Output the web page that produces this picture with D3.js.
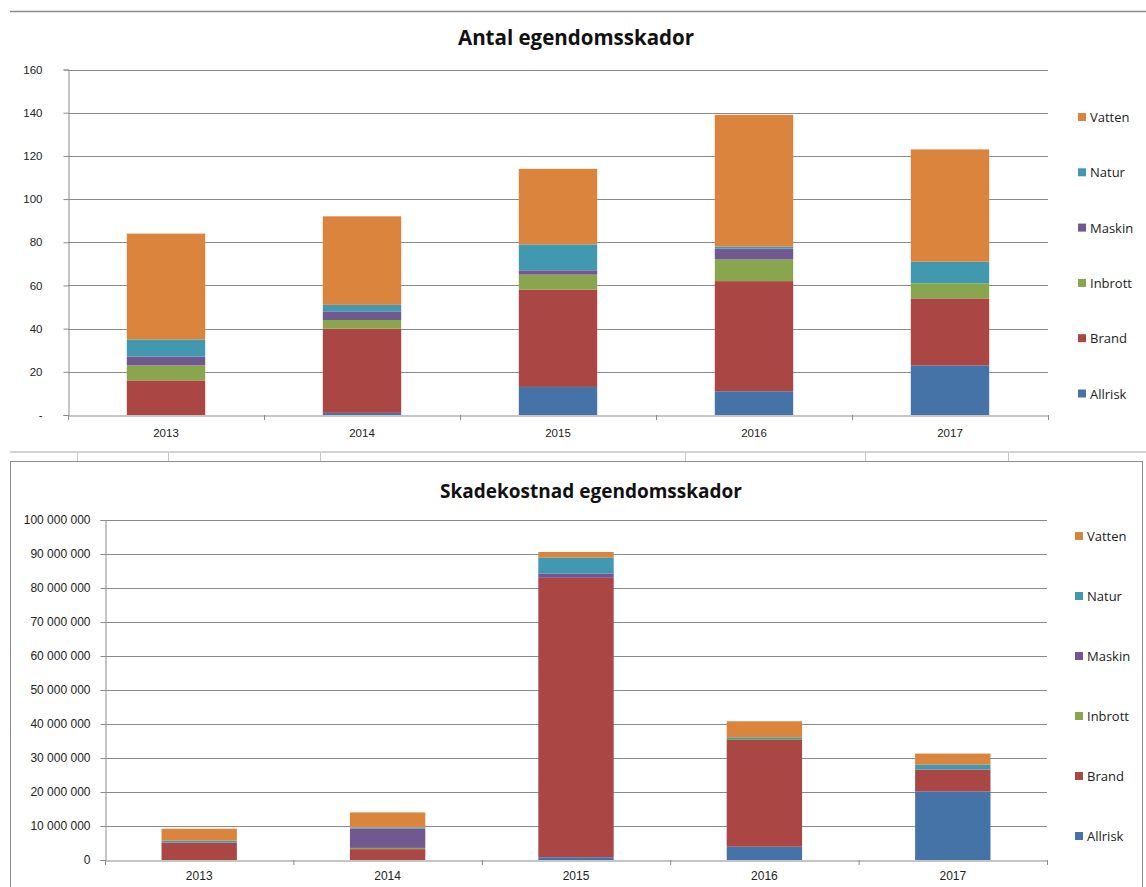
<!DOCTYPE html>
<html>
<head>
<meta charset="utf-8">
<script src="https://cdn.jsdelivr.net/npm/d3@7"></script>
<style>
  html, body { margin: 0; padding: 0; background: #fff; }
  svg { display: block; font-family: "Open Sans", "DejaVu Sans", sans-serif; }
</style>
</head>
<body>
<div id="chart"></div>
<script>
// data
const years = ["2013", "2014", "2015", "2016", "2017"];
const seriesNames = ["Allrisk", "Brand", "Inbrott", "Maskin", "Natur", "Vatten"];
const seriesColors = ["#4572A7", "#AA4643", "#89A54E", "#71588F", "#4198AF", "#DB843D"];

// Antal egendomsskador (antal)
const antalAllrisk = [0, 1, 13, 11, 23];
const antalBrand   = [16, 39, 45, 51, 31];
const antalInbrott = [7, 4, 7, 10, 7];
const antalMaskin  = [4, 4, 2, 5, 0];
const antalNatur   = [8, 3, 12, 1, 10];
const antalVatten  = [49, 41, 35, 61, 52];
const antalTicks = [0, 20, 40, 60, 80, 100, 120, 140, 160];

// Skadekostnad egendomsskador (kr)
const kostAllrisk = [0, 0, 800000, 3900000, 20200000];
const kostBrand   = [5000000, 3200000, 82200000, 31400000, 6400000];
const kostInbrott = [0, 350000, 0, 300000, 0];
const kostMaskin  = [100000, 5650000, 1300000, 0, 0];
const kostNatur   = [600000, 400000, 4700000, 500000, 1500000];
const kostVatten  = [3500000, 4400000, 1600000, 4700000, 3200000];
const kostTicks = d3.range(0, 100000001, 10000000);

const W = 1146, H = 887;
const svg = d3.select("#chart").append("svg")
    .attr("width", W).attr("height", H);

// bakgrundsramar (kalkylbladets linjer)
svg.append("line").attr("x1", 10).attr("x2", W).attr("y1", 11.5).attr("y2", 11.5)
    .attr("stroke", "#8c8c8c").attr("stroke-width", 1.5);
svg.append("line").attr("x1", 10).attr("x2", W).attr("y1", 452).attr("y2", 452)
    .attr("stroke", "#a6a6a6");
[77, 168, 320, 685, 865, 1008].forEach(x => {
    svg.append("line").attr("x1", x + 0.5).attr("x2", x + 0.5).attr("y1", 452).attr("y2", 461)
        .attr("stroke", "#c8c8c8");
});
svg.append("rect").attr("x", 10.5).attr("y", 461.5).attr("width", 1132).attr("height", 440)
    .attr("fill", "#fff").attr("stroke", "#8c8c8c");

function stackedChart(cfg) {
    const rows = years.map((y, i) => {
        const r = { year: y };
        seriesNames.forEach((s, k) => r[s] = cfg.values[k][i]);
        return r;
    });
    const stacked = d3.stack().keys(seriesNames)(rows);

    const x = d3.scaleBand().domain(years).range([cfg.left, cfg.right]).paddingInner(0).paddingOuter(0);
    const y = d3.scaleLinear().domain([0, cfg.max]).range([cfg.bottom, cfg.top]);

    const g = svg.append("g");

    // rutnät
    g.selectAll("line.grid").data(cfg.ticks.filter(t => t > 0)).join("line")
        .attr("class", "grid")
        .attr("x1", cfg.left).attr("x2", cfg.right)
        .attr("y1", d => Math.round(y(d)) + 0.5).attr("y2", d => Math.round(y(d)) + 0.5)
        .attr("stroke", "#8a8a8a").attr("stroke-width", 1);

    // staplar
    const bw = x.bandwidth() * cfg.barFrac;
    g.selectAll("g.series").data(stacked).join("g")
        .attr("fill", (d, i) => seriesColors[i])
        .selectAll("rect").data(d => d).join("rect")
        .attr("x", d => x(d.data.year) + (x.bandwidth() - bw) / 2)
        .attr("width", bw)
        .attr("y", d => y(d[1]))
        .attr("height", d => Math.max(0, y(d[0]) - y(d[1])));

    // y-axel
    const yAxis = g.append("g")
        .attr("transform", `translate(${cfg.left + 0.5},0)`)
        .call(d3.axisLeft(y).tickValues(cfg.ticks).tickSize(5).tickFormat(cfg.fmt));
    yAxis.select(".domain").attr("stroke", "#8a8a8a");
    yAxis.selectAll(".tick line").attr("stroke", "#8a8a8a");
    yAxis.selectAll("text").attr("font-size", cfg.tickFont).attr("fill", "#222").attr("dx", -cfg.labelGap);

    // x-axel
    const xAxis = g.append("g")
        .attr("transform", `translate(0,${Math.round(cfg.bottom) + 0.5})`)
        .call(d3.axisBottom(x).tickSize(0));
    xAxis.select(".domain").attr("stroke", "#8a8a8a");
    xAxis.selectAll("text").attr("font-size", cfg.tickFont).attr("fill", "#222").attr("dy", cfg.xLabelDy);
    // kategorimarkeringar
    g.selectAll("line.ctick").data(d3.range(years.length + 1)).join("line")
        .attr("x1", i => cfg.left + i * x.bandwidth() + 0.5)
        .attr("x2", i => cfg.left + i * x.bandwidth() + 0.5)
        .attr("y1", cfg.bottom).attr("y2", cfg.bottom + 5)
        .attr("stroke", "#8a8a8a");

    // titel
    g.append("text")
        .attr("x", cfg.titleX).attr("y", cfg.titleY)
        .attr("text-anchor", "middle")
        .attr("font-size", cfg.titleFont).attr("font-weight", "bold").attr("fill", "#111")
        .text(cfg.title);

    // förklaring
    const legend = g.append("g");
    seriesNames.slice().reverse().forEach((s, i) => {
        const ly = cfg.legendTop + i * cfg.legendStep;
        legend.append("rect")
            .attr("x", cfg.legendX).attr("y", ly - 4)
            .attr("width", 8).attr("height", 8)
            .attr("fill", seriesColors[seriesNames.indexOf(s)]);
        legend.append("text")
            .attr("x", cfg.legendX + 12).attr("y", ly)
            .attr("dominant-baseline", "central")
            .attr("font-size", 13).attr("fill", "#222")
            .text(s);
    });
}

stackedChart({
    values: [antalAllrisk, antalBrand, antalInbrott, antalMaskin, antalNatur, antalVatten],
    ticks: antalTicks, max: 160,
    fmt: d => d === 0 ? "-" : d,
    left: 68, right: 1048, top: 69.5, bottom: 415,
    barFrac: 0.40, tickFont: 11.5, labelGap: 18, xLabelDy: "1.6em",
    title: "Antal egendomsskador", titleX: 576, titleY: 45, titleFont: 20.5,
    legendX: 1078, legendTop: 117, legendStep: 55.3
});

stackedChart({
    values: [kostAllrisk, kostBrand, kostInbrott, kostMaskin, kostNatur, kostVatten],
    ticks: kostTicks, max: 100000000,
    fmt: d => d3.format(",")(d).replace(/,/g, " "),
    left: 105, right: 1047, top: 520, bottom: 860,
    barFrac: 0.40, tickFont: 12, labelGap: 7, xLabelDy: "1.4em",
    title: "Skadekostnad egendomsskador", titleX: 591, titleY: 498, titleFont: 19,
    legendX: 1075, legendTop: 536, legendStep: 60
});
</script>
</body>
</html>
